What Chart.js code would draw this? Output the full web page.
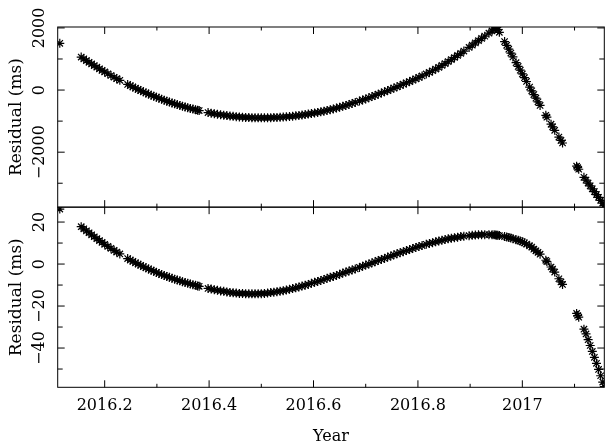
<!DOCTYPE html>
<html>
<head>
<meta charset="utf-8">
<script src="https://cdn.jsdelivr.net/npm/chart.js@4.4.1/dist/chart.umd.min.js"></script>
<style>
  html, body { margin: 0; padding: 0; background: #fff; }
  canvas { display: block; }
</style>
</head>
<body>
<canvas id="chart" width="610" height="445"></canvas>
<script>
// Dane (czas w latach, rezydua w ms)
const years = [
  2016.114,
  2016.155, 2016.160, 2016.165, 2016.170, 2016.175, 2016.180, 2016.185, 2016.190, 2016.195, 2016.200,
  2016.206, 2016.212, 2016.218, 2016.223, 2016.229,
  2016.244, 2016.249, 2016.254, 2016.259, 2016.264, 2016.269, 2016.274, 2016.279, 2016.284, 2016.289,
  2016.294, 2016.299, 2016.304, 2016.309, 2016.314, 2016.319, 2016.324, 2016.329, 2016.334, 2016.339,
  2016.344, 2016.349, 2016.354, 2016.359, 2016.364, 2016.369, 2016.374, 2016.378, 2016.381,
  2016.398, 2016.404, 2016.410, 2016.416, 2016.422, 2016.428, 2016.434, 2016.440, 2016.446, 2016.452,
  2016.458, 2016.464, 2016.470, 2016.476, 2016.482, 2016.488, 2016.494, 2016.500, 2016.506, 2016.512,
  2016.518, 2016.524, 2016.530, 2016.536, 2016.542, 2016.548, 2016.554, 2016.560, 2016.566, 2016.572,
  2016.578, 2016.584, 2016.590, 2016.596, 2016.602, 2016.608, 2016.614, 2016.620, 2016.626, 2016.632,
  2016.638, 2016.644, 2016.650, 2016.656, 2016.662, 2016.668, 2016.674, 2016.680,
  2016.688, 2016.694, 2016.700, 2016.706, 2016.712, 2016.718, 2016.724, 2016.730, 2016.736, 2016.742,
  2016.748, 2016.754, 2016.760, 2016.766, 2016.772, 2016.778, 2016.784, 2016.790, 2016.796, 2016.802,
  2016.808, 2016.816, 2016.822, 2016.828, 2016.834, 2016.840, 2016.846, 2016.852, 2016.858, 2016.864,
  2016.870, 2016.876, 2016.882, 2016.888, 2016.898, 2016.904, 2016.910, 2016.916, 2016.922, 2016.928,
  2016.936, 2016.942, 2016.946, 2016.949, 2016.951,
  2016.953, 2016.956, 2016.966, 2016.970, 2016.974, 2016.978, 2016.982, 2016.988, 2016.992, 2016.996,
  2017.000, 2017.004, 2017.008, 2017.014, 2017.018, 2017.022, 2017.026, 2017.030, 2017.034,
  2017.045, 2017.047, 2017.055, 2017.058, 2017.062, 2017.070, 2017.074, 2017.077,
  2017.104, 2017.106, 2017.108, 2017.118, 2017.122, 2017.126, 2017.130, 2017.134, 2017.138, 2017.142,
  2017.146, 2017.150, 2017.154, 2017.157
];

// Panel górny (ms)
const residTop = [
  1506,
  1061, 1004, 949, 894, 840, 787, 735, 684, 633, 584,
  525, 468, 412, 366, 312,
  182, 140, 99, 59, 20, -18, -56, -93, -128, -164,
  -198, -231, -264, -296, -327, -357, -386, -415, -442, -469,
  -495, -520, -545, -568, -591, -613, -634, -650, -662,
  -724, -744, -762, -779, -795, -810, -823, -836, -847, -857,
  -866, -874, -880, -886, -890, -893, -894, -895, -894, -893,
  -891, -886, -881, -876, -869, -860, -852, -843, -830, -817,
  -804, -789, -772, -756, -738, -719, -700, -680, -656, -632,
  -608, -581, -552, -524, -494, -463, -431, -400,
  -354, -319, -285, -248, -210, -172, -134, -95, -56, -17,
  24, 65, 105, 147, 189, 231, 274, 318, 361, 406,
  454, 518, 568, 622, 676, 730, 792, 853, 915, 980,
  1048, 1115, 1184, 1254, 1372, 1444, 1518, 1591, 1664, 1736,
  1832, 1904, 1951, 1986, 2010,
  1950, 1860, 1560, 1440, 1316, 1192, 1068, 882, 760, 640,
  520, 398, 276, 95, -25, -144, -262, -380, -496,
  -815, -873, -1100, -1184, -1295, -1515, -1623, -1704,
  -2450, -2500, -2550, -2810, -2900, -2995, -3085, -3180, -3270, -3365,
  -3455, -3550, -3640, -3710
];

// Panel dolny (ms)
const residBottom = [
  26.2,
  17.8, 16.8, 15.8, 14.9, 13.9, 13.0, 12.1, 11.2, 10.3, 9.4,
  8.4, 7.5, 6.5, 5.7, 4.8,
  2.6, 1.9, 1.3, 0.6, 0.0, -0.6, -1.2, -1.8, -2.3, -2.9,
  -3.4, -4.0, -4.5, -5.0, -5.4, -5.9, -6.3, -6.8, -7.2, -7.6,
  -8.0, -8.4, -8.8, -9.1, -9.5, -9.8, -10.1, -10.4, -10.6,
  -11.6, -11.9, -12.2, -12.5, -12.8, -13.0, -13.3, -13.5, -13.7, -13.8,
  -14.0, -14.0, -14.1, -14.2, -14.2, -14.2, -14.1, -14.1, -14.0, -13.8,
  -13.6, -13.4, -13.2, -12.9, -12.7, -12.4, -12.0, -11.7, -11.3, -10.9,
  -10.5, -10.1, -9.7, -9.2, -8.7, -8.3, -7.8, -7.3, -6.8, -6.3,
  -5.9, -5.4, -4.9, -4.3, -3.8, -3.3, -2.8, -2.3,
  -1.6, -1.0, -0.5, 0.0, 0.6, 1.1, 1.7, 2.2, 2.7, 3.3,
  3.8, 4.4, 4.9, 5.4, 5.9, 6.4, 6.9, 7.4, 7.9, 8.4,
  8.8, 9.4, 9.8, 10.2, 10.6, 11.0, 11.3, 11.7, 12.0, 12.3,
  12.5, 12.8, 13.1, 13.3, 13.5, 13.7, 13.8, 13.9, 14.0, 14.0,
  14.0, 14.0, 13.9, 13.8, 13.7,
  13.7, 13.6, 13.1, 12.9, 12.7, 12.4, 12.1, 11.6, 11.3, 11.0,
  10.6, 10.1, 9.5, 8.7, 8.1, 7.1, 6.3, 5.6, 4.7,
  1.8, 1.2, -1.4, -2.4, -3.8, -7.0, -8.5, -9.7,
  -23.5, -24.5, -25.3, -31.0, -33.3, -36.0, -38.8, -41.6, -44.4, -47.3,
  -50.2, -53.2, -56.2, -58.4
];

// Podziałki osi
const xMajorTicks = [2016.2, 2016.4, 2016.6, 2016.8, 2017];
const xMinorTicks = [2016.3, 2016.5, 2016.7, 2016.9, 2017.1];
const topMajorTicks = [2000, 0, -2000];
const topMinorTicks = [1000, -1000, -3000];
const bottomMajorTicks = [20, 0, -20, -40];
const bottomMinorTicks = [10, -10, -30, -50];

const FONT = 'DejaVu Serif';

const panels = [
  { id: 'yTop', major: topMajorTicks, minor: topMinorTicks },
  { id: 'yBottom', major: bottomMajorTicks, minor: bottomMinorTicks }
];

// Ramki, podziałki do wewnątrz i pionowe etykiety osi Y
const framePlugin = {
  id: 'frame',
  afterDraw(chart) {
    const ctx = chart.ctx;
    const xs = chart.scales.x;
    const l = xs.left, r = xs.right;
    ctx.save();
    ctx.strokeStyle = '#000';
    ctx.lineWidth = 1;
    const seg = (x1, y1, x2, y2) => {
      ctx.beginPath();
      ctx.moveTo(x1, y1);
      ctx.lineTo(x2, y2);
      ctx.stroke();
    };
    for (const p of panels) {
      const ys = chart.scales[p.id];
      const t = ys.top, b = ys.bottom;
      ctx.strokeRect(l, t, r - l, b - t);
      xMajorTicks.forEach(v => {
        const px = xs.getPixelForValue(v);
        seg(px, b, px, b - 7);
        seg(px, t, px, t + 7);
      });
      xMinorTicks.forEach(v => {
        const px = xs.getPixelForValue(v);
        seg(px, b, px, b - 3.5);
        seg(px, t, px, t + 3.5);
      });
      p.major.forEach(v => {
        const py = ys.getPixelForValue(v);
        seg(l, py, l + 7, py);
        seg(r, py, r - 7, py);
      });
      p.minor.forEach(v => {
        const py = ys.getPixelForValue(v);
        seg(l, py, l + 5, py);
        seg(r, py, r - 5, py);
      });
      // etykiety obrócone o 90 stopni
      ctx.fillStyle = '#000';
      ctx.font = '16px "' + FONT + '"';
      ctx.textAlign = 'center';
      ctx.textBaseline = 'middle';
      p.major.forEach(v => {
        const py = ys.getPixelForValue(v);
        ctx.save();
        ctx.translate(40, py);
        ctx.rotate(-Math.PI / 2);
        ctx.fillText(String(v).replace('-', '\u2212'), 0, 0);
        ctx.restore();
      });
    }
    ctx.restore();
  }
};

const pointStyle = {
  showLine: false,
  pointStyle: 'star',
  pointRadius: 4.5,
  pointBorderWidth: 1.2,
  pointBorderColor: '#000',
  pointBackgroundColor: '#000'
};

const yTitle = {
  display: true,
  text: 'Residual (ms)',
  color: '#000',
  font: { family: FONT, size: 17, lineHeight: 1 },
  padding: { top: 8, bottom: 0 }
};

new Chart(document.getElementById('chart'), {
  type: 'scatter',
  data: {
    datasets: [
      Object.assign({
        label: 'top',
        yAxisID: 'yTop',
        data: years.map((x, i) => ({ x: x, y: residTop[i] }))
      }, pointStyle),
      Object.assign({
        label: 'bottom',
        yAxisID: 'yBottom',
        data: years.map((x, i) => ({ x: x, y: residBottom[i] }))
      }, pointStyle)
    ]
  },
  options: {
    responsive: false,
    animation: false,
    layout: { padding: { top: 27, right: 1.7, bottom: 0, left: 0 } },
    plugins: {
      legend: { display: false },
      tooltip: { enabled: false }
    },
    scales: {
      x: {
        type: 'linear',
        position: 'bottom',
        min: 2016.110,
        max: 2017.157,
        grid: { display: false, drawTicks: false, tickLength: 0 },
        border: { display: false },
        afterBuildTicks: s => { s.ticks = xMajorTicks.map(v => ({ value: v })); },
        afterFit: s => { s.height = 57.7; },
        ticks: {
          color: '#000',
          padding: 9,
          maxRotation: 0,
          font: { family: FONT, size: 16 },
          callback: v => String(Number(v.toFixed(1)))
        },
        title: {
          display: true,
          text: 'Year',
          color: '#000',
          font: { family: FONT, size: 16, lineHeight: 1 },
          padding: { top: 0, bottom: 0 }
        }
      },
      yBottom: {
        type: 'linear',
        position: 'left',
        stack: 'panels',
        stackWeight: 1,
        weight: 0,
        min: -58.7,
        max: 27.1,
        grid: { display: false, drawTicks: false },
        border: { display: false },
        ticks: { display: false },
        afterFit: s => { s.width = 57.7; },
        title: yTitle
      },
      yTop: {
        type: 'linear',
        position: 'left',
        stack: 'panels',
        stackWeight: 1,
        weight: 1,
        min: -3770,
        max: 2030,
        grid: { display: false, drawTicks: false },
        border: { display: false },
        ticks: { display: false },
        afterFit: s => { s.width = 57.7; },
        title: yTitle
      }
    }
  },
  plugins: [framePlugin]
});
</script>
</body>
</html>
